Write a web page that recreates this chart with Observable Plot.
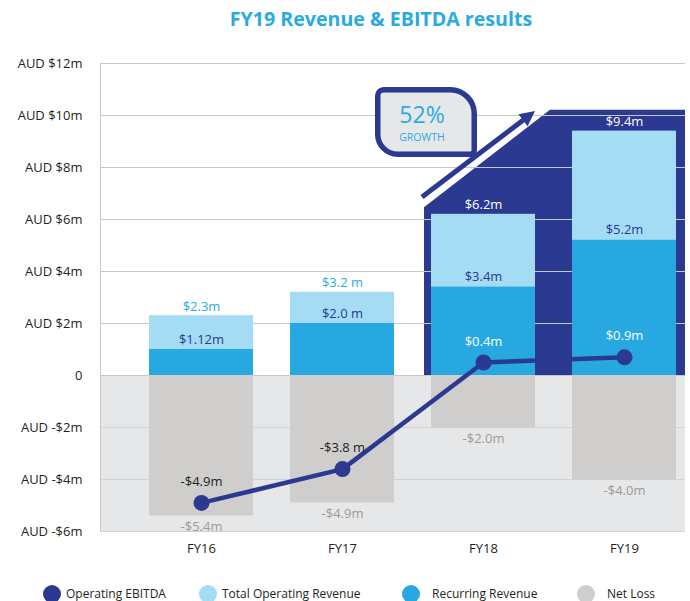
<!DOCTYPE html>
<html>
<head>
<meta charset="utf-8">
<script src="https://cdn.jsdelivr.net/npm/d3@7"></script>
<script src="https://cdn.jsdelivr.net/npm/@observablehq/plot@0.6"></script>
<style>
  body { margin: 0; background: #fff; font-family: "Open Sans", sans-serif; }
  #wrap { position: relative; width: 690px; height: 601px; overflow: hidden; background: #fff; }
  #title { position: absolute; left: 0; top: 6px; width: 762px; text-align: center; font-size: 19.6px; font-weight: 700; color: #29abe2; line-height: 26px; }
  #chart { position: absolute; left: 0; top: 40px; }
  .lg { position: absolute; top: 585px; height: 18px; line-height: 18px; font-size: 12px; color: #231f20; white-space: nowrap; }
  .lg i { position: absolute; top: 0; width: 18px; height: 18px; border-radius: 50%; }
</style>
</head>
<body>
<div id="wrap">
  <div id="title">FY19 Revenue &amp; EBITDA results</div>
  <div id="chart"></div>
  <div id="legend"></div>
</div>
<script>
// ---- data ----
const years = ["FY16", "FY17", "FY18", "FY19"];
const totalRevenue = [2.3, 3.2, 6.2, 9.4];
const recurringRevenue = [1.0, 2.0, 3.4, 5.2];
const netLoss = [-5.4, -4.9, -2.0, -4.0];
const ebitda = [-4.9, -3.6, 0.5, 0.7];
const totalLabels = ["$2.3m", "$3.2 m", "$6.2m", "$9.4m"];
const recurringLabels = ["$1.12m", "$2.0 m", "$3.4m", "$5.2m"];
const lossLabels = ["-$5.4m", "-$4.9m", "-$2.0m", "-$4.0m"];
const ebitdaLabels = ["-$4.9m", "-$3.8 m", "$0.4m", "$0.9m"];
const yTicks = [12, 10, 8, 6, 4, 2, 0, -2, -4, -6];
const yTickLabels = ["AUD $12m", "AUD $10m", "AUD $8m", "AUD $6m", "AUD $4m", "AUD $2m", "0", "AUD -$2m", "AUD -$4m", "AUD -$6m"];
const growthYears = ["FY18", "FY19"];
const growthText = ["52%", "GROWTH"];
const seriesNames = ["Operating EBITDA", "Total Operating Revenue", "Recurring Revenue", "Net Loss"];

// ---- styles ----
const navy = "#2b3990", lightBlue = "#a3dcf3", midBlue = "#27a8e0", lossGrey = "#cfcecc";
const titleBlue = "#29abe2", bgGrey = "#e6e7e8", dark = "#231f20", lossText = "#9b9b9b";
const seriesColors = [navy, lightBlue, midBlue, lossGrey];

const rows = years.map((year, i) => ({
  year, total: totalRevenue[i], recurring: recurringRevenue[i], loss: netLoss[i], ebitda: ebitda[i],
  totalLabel: totalLabels[i], recurringLabel: recurringLabels[i], lossLabel: lossLabels[i], ebitdaLabel: ebitdaLabels[i],
  highlighted: growthYears.includes(year)
}));

function bandInfo(x) {
  return x.bandwidth ? x.bandwidth() : 104;
}

function growthBackdrop(index, scales, values, dims) {
  const {x, y} = scales;
  const bw = bandInfo(x);
  const x18 = x(growthYears[0]);
  const right = dims.width - dims.marginRight;
  const g = d3.create("svg:g");
  const pts = [[x18 - 7, y(0)], [x18 - 7, y(6.45)], [x18 + bw + 15, y(10.2)], [right, y(10.2)], [right, y(0)]];
  g.append("path").attr("d", "M" + pts.map(p => p.join(",")).join("L") + "Z").attr("fill", navy);
  return g.node();
}

function leftEdge(index, scales, values, dims) {
  const {y} = scales;
  const g = d3.create("svg:g");
  g.append("line").attr("x1", dims.marginLeft + 0.5).attr("x2", dims.marginLeft + 0.5)
    .attr("y1", y(d3.max(yTicks))).attr("y2", y(d3.min(yTicks))).attr("stroke", "#c8c8c8");
  return g.node();
}

function growthCallout(index, scales, values, dims) {
  const {x, y} = scales;
  const bw = bandInfo(x);
  const x18 = x(growthYears[0]);
  const g = d3.create("svg:g");
  // arrow
  const ax1 = x18 - 9, ay1 = y(6.85), ax2 = x18 + bw, ay2 = y(10.15);
  const ang = Math.atan2(ay2 - ay1, ax2 - ax1);
  const headLen = 15, headW = 7.5;
  const bx = ax2 - headLen * Math.cos(ang), by = ay2 - headLen * Math.sin(ang);
  g.append("line").attr("x1", ax1).attr("y1", ay1).attr("x2", bx + 2 * Math.cos(ang)).attr("y2", by + 2 * Math.sin(ang))
    .attr("stroke", navy).attr("stroke-width", 5);
  g.append("path").attr("d",
    `M${ax2},${ay2}L${bx - headW * Math.sin(ang)},${by + headW * Math.cos(ang)}L${bx + headW * Math.sin(ang)},${by - headW * Math.cos(ang)}Z`)
    .attr("fill", navy);
  // box
  const x0 = x18 - 53.25, x1 = x18 + 43.25, y0 = y(10.97), y1 = y(8.49);
  const r1 = 6, r2 = 24, r3 = 4, r4 = 20;
  g.append("path").attr("d",
    `M${x0 + r1},${y0}H${x1 - r2}A${r2},${r2} 0 0 1 ${x1},${y0 + r2}V${y1 - r3}A${r3},${r3} 0 0 1 ${x1 - r3},${y1}` +
    `H${x0 + r4}A${r4},${r4} 0 0 1 ${x0},${y1 - r4}V${y0 + r1}A${r1},${r1} 0 0 1 ${x0 + r1},${y0}Z`)
    .attr("fill", bgGrey).attr("stroke", navy).attr("stroke-width", 5.5);
  const cx = x18 - 9;
  g.append("text").attr("x", cx).attr("y", y0 + 33.5).attr("text-anchor", "middle")
    .attr("font-size", 23).attr("fill", titleBlue).text(growthText[0]);
  g.append("text").attr("x", cx).attr("y", y0 + 51).attr("text-anchor", "middle")
    .attr("font-size", 10.5).attr("fill", titleBlue).text(growthText[1]);
  return g.node();
}

const chart = Plot.plot({
  width: 690,
  height: 530,
  marginLeft: 100,
  marginRight: 5,
  marginTop: 23,
  marginBottom: 39,
  style: {fontFamily: "'Open Sans', sans-serif", fontSize: "13px", color: dark, background: "transparent"},
  x: {type: "band", domain: years, range: [148, 677], paddingInner: 0.265, paddingOuter: 0, tickSize: 0, tickPadding: 12, label: null},
  y: {domain: [d3.min(yTicks), d3.max(yTicks)], ticks: yTicks, tickFormat: d => yTickLabels[yTicks.indexOf(d)], tickSize: 0, tickPadding: 18, label: null},
  color: {type: "identity"},
  marks: [
    Plot.rect([{lo: d3.min(yTicks), hi: 0}], {y1: "lo", y2: "hi", fill: bgGrey}),
    growthBackdrop,
    Plot.ruleY(yTicks, {stroke: d => d >= 0 ? "#c8c8c8" : "#d0d1d3", strokeWidth: 1}),
    leftEdge,
    Plot.barY(rows, {x: "year", y: "total", fill: lightBlue}),
    Plot.barY(rows, {x: "year", y: "recurring", fill: midBlue}),
    Plot.barY(rows, {x: "year", y: "loss", fill: lossGrey}),
    Plot.text(rows, {x: "year", y: "total", text: "totalLabel", dy: -9, fill: d => d.highlighted ? "white" : titleBlue}),
    Plot.text(rows, {x: "year", y: "recurring", text: "recurringLabel", dy: -10, fill: navy}),
    Plot.text(rows, {x: "year", y: "loss", text: "lossLabel", dy: 11, fill: lossText}),
    Plot.line(rows, {x: "year", y: "ebitda", stroke: navy, strokeWidth: 4.5}),
    Plot.dot(rows, {x: "year", y: "ebitda", r: 8, fill: navy, stroke: null}),
    Plot.text(rows, {x: "year", y: "ebitda", text: "ebitdaLabel", dy: -21, fill: d => d.highlighted ? "white" : dark}),
    growthCallout
  ]
});
document.getElementById("chart").appendChild(chart);

// legend
const legendX = [52, 208, 411, 586];
const legendGap = [14, 14, 21, 21];
const legend = document.getElementById("legend");
seriesNames.forEach((name, i) => {
  const item = document.createElement("div");
  item.className = "lg";
  item.style.left = (legendX[i] - 9) + "px";
  item.innerHTML = `<i style="left:0;background:${seriesColors[i]}"></i><span style="margin-left:${9 + legendGap[i]}px">${name}</span>`;
  legend.appendChild(item);
});
</script>
</body>
</html>
